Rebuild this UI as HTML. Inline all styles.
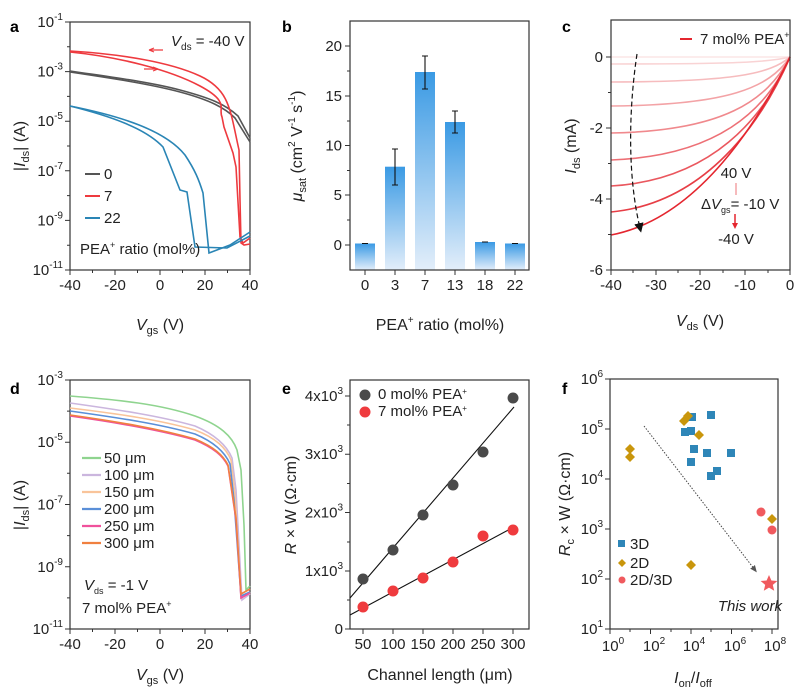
<!DOCTYPE html>
<html><head><meta charset="utf-8"><style>
body{margin:0;background:#fff}
svg{display:block;font-family:"Liberation Sans",Arial,sans-serif}
.t{font-size:15px;fill:#222}
.ti{font-size:16px;fill:#222}
.L{font-size:16px;font-weight:bold}
.ax{fill:none;stroke:#333;stroke-width:1.2}
.c{fill:none;stroke-width:1.6}
</style></head><body>
<svg width="798" height="699" viewBox="0 0 798 699" xmlns="http://www.w3.org/2000/svg">
<defs>
<linearGradient id="bg" x1="0" y1="0" x2="0" y2="1"><stop offset="0" stop-color="#3a9ae4"/><stop offset="1" stop-color="#e3eefa"/></linearGradient>
<marker id="ah" markerWidth="8" markerHeight="8" refX="4" refY="4" orient="auto"><path d="M0,0 L8,4 L0,8z" fill="#111"/></marker>
<marker id="ah2" markerWidth="8" markerHeight="8" refX="4" refY="4" orient="auto"><path d="M0,1 L7,4 L0,7z" fill="#555"/></marker>
</defs>

<!-- ===== Panel a ===== -->
<text x="10" y="32" class="L">a</text>
<rect x="70" y="22" width="180" height="248" class="ax"/>
<g stroke="#333" stroke-width="1">
<path d="M70,22h-5M70,46.8h-3M70,71.6h-5M70,96.4h-3M70,121.2h-5M70,146h-3M70,170.8h-5M70,195.6h-3M70,220.4h-5M70,245.2h-3M70,270h-5"/>
<path d="M70,270v5M92.5,270v3M115,270v5M137.5,270v3M160,270v5M182.5,270v3M205,270v5M227.5,270v3M250,270v5"/>
</g>
<g class="t" text-anchor="end">
<text x="63" y="27">10<tspan font-size="10" dy="-7">-1</tspan></text>
<text x="63" y="76.6">10<tspan font-size="10" dy="-7">-3</tspan></text>
<text x="63" y="126.2">10<tspan font-size="10" dy="-7">-5</tspan></text>
<text x="63" y="175.8">10<tspan font-size="10" dy="-7">-7</tspan></text>
<text x="63" y="225.4">10<tspan font-size="10" dy="-7">-9</tspan></text>
<text x="63" y="275">10<tspan font-size="10" dy="-7">-11</tspan></text>
</g>
<g class="t" text-anchor="middle">
<text x="70" y="290">-40</text><text x="115" y="290">-20</text><text x="160" y="290">0</text><text x="205" y="290">20</text><text x="250" y="290">40</text>
</g>
<text x="160" y="330" class="ti" text-anchor="middle"><tspan font-style="italic">V</tspan><tspan font-size="11" dy="4">gs</tspan><tspan dy="-4"> (V)</tspan></text>
<text transform="translate(25,146) rotate(-90)" class="ti" text-anchor="middle">|<tspan font-style="italic">I</tspan><tspan font-size="11" dy="4">ds</tspan><tspan dy="-4">| (A)</tspan></text>
<path class="c" stroke="#555" d="M70,72 C110,78 150,84 180,92 S225,108 235,118 L250,142"/>
<path class="c" stroke="#555" d="M70,71 C110,77 150,82 180,90 S225,104 238,116 L250,138"/>
<path class="c" stroke="#ee3a3f" d="M70,51 C120,54 170,62 200,76 S230,110 239,150 L240,200 L241,243 L244,245 L250,244"/>
<path class="c" stroke="#ee3a3f" d="M70,52 C120,57 170,70 200,86 S218,108 222,117 L224,127 L233,153 L236,167 L240,237 L243,243 L250,238"/>
<path class="c" stroke="#2a85b5" d="M70,106 C120,116 165,130 185,155 C195,170 199,180 203,193 L209,253 L230,245 L250,232"/>
<path class="c" stroke="#2a85b5" d="M70,106 C110,116 145,128 163,147 L180,190 L187,192 L195,247 L227,248 L250,236"/>
<path stroke="#ee3a3f" stroke-width="1.2" d="M163,50 h-14 M149,50 l5,-2 M149,50 l5,2 M144,69 h14 M158,69 l-5,-2 M158,69 l-5,2" fill="none"/>
<text x="171" y="46" class="t"><tspan font-style="italic">V</tspan><tspan font-size="10" dy="4">ds</tspan><tspan dy="-4"> = -40 V</tspan></text>
<path d="M85,174h15" stroke="#555" stroke-width="2"/><text x="104" y="179" class="t">0</text>
<path d="M85,196h15" stroke="#ee3a3f" stroke-width="2"/><text x="104" y="201" class="t">7</text>
<path d="M85,218h15" stroke="#2a85b5" stroke-width="2"/><text x="104" y="223" class="t">22</text>
<text x="80" y="254" class="t" font-size="14">PEA<tspan font-size="9" dy="-6">+</tspan><tspan dy="6"> ratio (mol%)</tspan></text>

<!-- ===== Panel b ===== -->
<text x="282" y="32" class="L">b</text>
<g fill="url(#bg)">
<rect x="355" y="243.5" width="20" height="26.5"/>
<rect x="385" y="166.7" width="20" height="103.3"/>
<rect x="415" y="72" width="20" height="198"/>
<rect x="445" y="122" width="20" height="148"/>
<rect x="475" y="242" width="20" height="28"/>
<rect x="505" y="243.5" width="20" height="26.5"/>
</g>
<g stroke="#111" stroke-width="1.1">
<path d="M395,149v36M392,149h6M392,185h6"/>
<path d="M425,56v33M422,56h6M422,89h6"/>
<path d="M455,111v22M452,111h6M452,133h6"/>
<path d="M362,243.5h6M482,242h6M512,243.5h6"/>
</g>
<rect x="350" y="21" width="179" height="249" class="ax"/>
<g stroke="#333" stroke-width="1">
<path d="M350,245h-5M350,220h-3M350,195h-5M350,170.5h-3M350,145.5h-5M350,121h-3M350,96h-5M350,71h-3M350,46h-5"/>
<path d="M365,270v5M395,270v5M425,270v5M455,270v5M485,270v5M515,270v5"/>
</g>
<g class="t" text-anchor="end">
<text x="342" y="250">0</text><text x="342" y="200">5</text><text x="342" y="150.5">10</text><text x="342" y="101">15</text><text x="342" y="51">20</text>
</g>
<g class="t" text-anchor="middle">
<text x="365" y="290">0</text><text x="395" y="290">3</text><text x="425" y="290">7</text><text x="455" y="290">13</text><text x="485" y="290">18</text><text x="515" y="290">22</text>
</g>
<text x="440" y="330" class="ti" text-anchor="middle">PEA<tspan font-size="10" dy="-7">+</tspan><tspan dy="7"> ratio (mol%)</tspan></text>
<text transform="translate(302,146) rotate(-90)" class="ti" text-anchor="middle"><tspan font-style="italic">μ</tspan><tspan font-size="11" dy="4">sat</tspan><tspan dy="-4"> (cm</tspan><tspan font-size="10" dy="-7">2</tspan><tspan dy="7"> V</tspan><tspan font-size="10" dy="-7">-1</tspan><tspan dy="7"> s</tspan><tspan font-size="10" dy="-7">-1</tspan><tspan dy="7">)</tspan></text>

<!-- ===== Panel c ===== -->
<text x="562" y="32" class="L">c</text>
<g class="c" stroke-width="1.8">
<path stroke="#fbe6e6" d="M611,57 L790,57"/>
<path stroke="#f9d3d4" d="M790,57 C770,62 740,64 611,64"/>
<path stroke="#f6bcbe" d="M790,57 C770,74 734,81.7 611,82"/>
<path stroke="#f3a3a6" d="M790,57 C769,88 728,105 611,106"/>
<path stroke="#f0898d" d="M790,57 C767,101 723,131 611,133"/>
<path stroke="#ed7076" d="M790,57 C766,111 717,156 611,160"/>
<path stroke="#ea575e" d="M790,57 C764,118 712,180 611,186"/>
<path stroke="#e73e46" d="M790,57 C762,122 706,203 611,212"/>
<path stroke="#e4262f" d="M790,57 C760,118 700,218 611,235"/>
</g>
<rect x="611" y="20" width="179" height="250" class="ax"/>
<path d="M637,54 C630,100 626,170 640,228" fill="none" stroke="#111" stroke-width="1.2" stroke-dasharray="5,3" marker-end="url(#ah)"/>
<g stroke="#333" stroke-width="1">
<path d="M611,57h-5M611,92.5h-3M611,128h-5M611,163.5h-3M611,199h-5M611,234.5h-3M611,270h-5"/>
<path d="M611,270v5M633,270v3M656,270v5M678,270v3M700,270v5M723,270v3M745,270v5M768,270v3M790,270v5"/>
</g>
<g class="t" text-anchor="end">
<text x="603" y="62">0</text><text x="603" y="133">-2</text><text x="603" y="204">-4</text><text x="603" y="275">-6</text>
</g>
<g class="t" text-anchor="middle">
<text x="611" y="290">-40</text><text x="656" y="290">-30</text><text x="700" y="290">-20</text><text x="745" y="290">-10</text><text x="790" y="290">0</text>
</g>
<text x="700" y="326" class="ti" text-anchor="middle"><tspan font-style="italic">V</tspan><tspan font-size="11" dy="4">ds</tspan><tspan dy="-4"> (V)</tspan></text>
<text transform="translate(576,146) rotate(-90)" class="ti" text-anchor="middle"><tspan font-style="italic">I</tspan><tspan font-size="11" dy="4">ds</tspan><tspan dy="-4"> (mA)</tspan></text>
<path d="M680,39h12" stroke="#e4262f" stroke-width="2"/>
<text x="700" y="44" class="t" font-size="14">7 mol% PEA<tspan font-size="9" dy="-6">+</tspan></text>
<text x="736" y="178" class="t" font-size="14" text-anchor="middle">40 V</text>
<path d="M736,183v12" stroke="#f3a3a6" stroke-width="1.5"/>
<text x="701" y="209" class="t" font-size="14">Δ<tspan font-style="italic">V</tspan><tspan font-size="9" dy="4">gs</tspan><tspan dy="-4">= -10 V</tspan></text>
<path d="M735,214v10" stroke="#e4262f" stroke-width="1.5"/><path d="M732,223l3,6l3,-6z" fill="#e4262f"/>
<text x="736" y="244" class="t" font-size="14" text-anchor="middle">-40 V</text>

<!-- ===== Panel d ===== -->
<text x="10" y="394" class="L">d</text>
<rect x="70" y="380" width="180" height="249" class="ax"/>
<g class="c">
<path stroke="#8fd48f" d="M70,396 C120,400 160,404 195,416 C220,425 232,436 237,450 L241,470 L244,525 L246,590 L250,586"/>
<path stroke="#cbb6de" d="M70,403 C120,410 160,416 195,426 C216,435 227,446 232,458 L236,490 L242,600 L250,594"/>
<path stroke="#f9c49a" d="M70,408 C120,414 160,420 195,430 C216,438 226,448 231,460 L235,495 L241,598 L250,592"/>
<path stroke="#5a8fd8" d="M70,411 C120,418 160,424 195,434 C214,442 225,452 230,464 L234,500 L241,596 L250,592"/>
<path stroke="#f0519c" d="M70,416 C120,423 160,430 195,440 C214,448 223,456 228,466 L236,520 L241,598 L250,593"/>
<path stroke="#f08040" d="M70,415 C120,422 160,429 195,439 C214,447 223,455 228,465 L236,518 L241,594 L250,589"/>
</g>
<g stroke="#333" stroke-width="1">
<path d="M70,380h-5M70,411.1h-3M70,442.2h-5M70,473.3h-3M70,504.5h-5M70,535.6h-3M70,566.8h-5M70,597.9h-3M70,629h-5"/>
<path d="M70,629v5M92.5,629v3M115,629v5M137.5,629v3M160,629v5M182.5,629v3M205,629v5M227.5,629v3M250,629v5"/>
</g>
<g class="t" text-anchor="end">
<text x="63" y="385">10<tspan font-size="10" dy="-7">-3</tspan></text>
<text x="63" y="447">10<tspan font-size="10" dy="-7">-5</tspan></text>
<text x="63" y="509.5">10<tspan font-size="10" dy="-7">-7</tspan></text>
<text x="63" y="572">10<tspan font-size="10" dy="-7">-9</tspan></text>
<text x="63" y="634">10<tspan font-size="10" dy="-7">-11</tspan></text>
</g>
<g class="t" text-anchor="middle">
<text x="70" y="649">-40</text><text x="115" y="649">-20</text><text x="160" y="649">0</text><text x="205" y="649">20</text><text x="250" y="649">40</text>
</g>
<text x="160" y="680" class="ti" text-anchor="middle"><tspan font-style="italic">V</tspan><tspan font-size="11" dy="4">gs</tspan><tspan dy="-4"> (V)</tspan></text>
<text transform="translate(25,505) rotate(-90)" class="ti" text-anchor="middle">|<tspan font-style="italic">I</tspan><tspan font-size="11" dy="4">ds</tspan><tspan dy="-4">| (A)</tspan></text>
<g stroke-width="2.2">
<path d="M82,458h19" stroke="#8fd48f"/><path d="M82,475h19" stroke="#cbb6de"/><path d="M82,492h19" stroke="#f9c49a"/>
<path d="M82,509h19" stroke="#5a8fd8"/><path d="M82,526h19" stroke="#f0519c"/><path d="M82,543h19" stroke="#f08040"/>
</g>
<g class="t" font-size="14">
<text x="104" y="463">50 μm</text><text x="104" y="480">100 μm</text><text x="104" y="497">150 μm</text>
<text x="104" y="514">200 μm</text><text x="104" y="531">250 μm</text><text x="104" y="548">300 μm</text>
<text x="84" y="590"><tspan font-style="italic">V</tspan><tspan font-size="9" dy="4">ds</tspan><tspan dy="-4"> = -1 V</tspan></text>
<text x="82" y="613">7 mol% PEA<tspan font-size="9" dy="-6">+</tspan></text>
</g>

<!-- ===== Panel e ===== -->
<text x="282" y="394" class="L">e</text>
<rect x="350" y="380" width="179" height="249" class="ax"/>
<path d="M350,598 L514,407" stroke="#111" stroke-width="1.1"/>
<path d="M350,615 L514,527" stroke="#111" stroke-width="1.1"/>
<g fill="#4a4a4a">
<circle cx="363" cy="579" r="5.5"/><circle cx="393" cy="550" r="5.5"/><circle cx="423" cy="515" r="5.5"/><circle cx="453" cy="485" r="5.5"/><circle cx="483" cy="452" r="5.5"/><circle cx="513" cy="398" r="5.5"/>
<circle cx="365" cy="395" r="5.5"/>
</g>
<g fill="#ef3b3e">
<circle cx="363" cy="607" r="5.5"/><circle cx="393" cy="591" r="5.5"/><circle cx="423" cy="578" r="5.5"/><circle cx="453" cy="562" r="5.5"/><circle cx="483" cy="536" r="5.5"/><circle cx="513" cy="530" r="5.5"/>
<circle cx="365" cy="412" r="5.5"/>
</g>
<text x="378" y="399" class="t" font-size="11.5">0 mol% PEA<tspan font-size="8" dy="-5">+</tspan></text>
<text x="378" y="416" class="t" font-size="11.5">7 mol% PEA<tspan font-size="8" dy="-5">+</tspan></text>
<g stroke="#333" stroke-width="1">
<path d="M350,629h-5M350,600h-3M350,571h-5M350,542h-3M350,512.5h-5M350,483.5h-3M350,454.3h-5M350,425h-3M350,396h-5"/>
<path d="M363,629v5M393,629v5M423,629v5M453,629v5M483,629v5M513,629v5"/>
</g>
<g class="t" text-anchor="end">
<text x="343" y="634">0</text>
<text x="343" y="576">1x10<tspan font-size="10" dy="-7">3</tspan></text>
<text x="343" y="517.5">2x10<tspan font-size="10" dy="-7">3</tspan></text>
<text x="343" y="459">3x10<tspan font-size="10" dy="-7">3</tspan></text>
<text x="343" y="401">4x10<tspan font-size="10" dy="-7">3</tspan></text>
</g>
<g class="t" text-anchor="middle">
<text x="363" y="649">50</text><text x="393" y="649">100</text><text x="423" y="649">150</text><text x="453" y="649">200</text><text x="483" y="649">250</text><text x="513" y="649">300</text>
</g>
<text x="440" y="680" class="ti" text-anchor="middle">Channel length (μm)</text>
<text transform="translate(296,505) rotate(-90)" class="ti" text-anchor="middle"><tspan font-style="italic">R</tspan> × W (Ω·cm)</text>

<!-- ===== Panel f ===== -->
<text x="562" y="394" class="L">f</text>
<rect x="610" y="379" width="168" height="250" class="ax"/>
<path d="M644,426 L755,570" stroke="#444" stroke-width="1" stroke-dasharray="1.5,1.5" marker-end="url(#ah2)"/>
<g fill="#2e86b8">
<rect x="688" y="413" width="8" height="8"/><rect x="707" y="411" width="8" height="8"/><rect x="681" y="428" width="8" height="8"/><rect x="687" y="427" width="8" height="8"/>
<rect x="690" y="445" width="8" height="8"/><rect x="703" y="449" width="8" height="8"/><rect x="687" y="458" width="8" height="8"/><rect x="727" y="449" width="8" height="8"/>
<rect x="707" y="472" width="8" height="8"/><rect x="713" y="467" width="8" height="8"/>
<rect x="618" y="540" width="7" height="7"/>
</g>
<g fill="#c9960c">
<path d="M630,444l5,5l-5,5l-5,-5z"/><path d="M630,452l5,5l-5,5l-5,-5z"/><path d="M684,416l5,5l-5,5l-5,-5z"/><path d="M688,411l5,5l-5,5l-5,-5z"/>
<path d="M699,430l5,5l-5,5l-5,-5z"/><path d="M691,560l5,5l-5,5l-5,-5z"/><path d="M772,514l5,5l-5,5l-5,-5z"/>
<path d="M622,559l4,4l-4,4l-4,-4z"/>
</g>
<g fill="#f05a5e">
<circle cx="761" cy="512" r="4.5"/><circle cx="772" cy="530" r="4.5"/><circle cx="622" cy="580" r="3.5"/>
<path d="M769,575 l2.4,5.5 6,0.5 -4.6,3.9 1.4,5.8 -5.2,-3.1 -5.2,3.1 1.4,-5.8 -4.6,-3.9 6,-0.5z"/>
</g>
<text x="630" y="549" class="t" font-size="14">3D</text>
<text x="630" y="568" class="t" font-size="14">2D</text>
<text x="630" y="585" class="t" font-size="14">2D/3D</text>
<text x="782" y="611" class="t" font-size="13" font-style="italic" text-anchor="end">This work</text>
<g stroke="#333" stroke-width="1">
<path d="M610,379h-5M610,429h-5M610,479h-5M610,529h-5M610,579h-5M610,629h-5"/>
<path d="M610,629v5M630,629v3M650.5,629v5M671,629v3M691,629v5M711,629v3M731.5,629v5M752,629v3M772,629v5"/>
</g>
<g class="t" text-anchor="end">
<text x="603" y="384">10<tspan font-size="10" dy="-7">6</tspan></text>
<text x="603" y="434">10<tspan font-size="10" dy="-7">5</tspan></text>
<text x="603" y="484">10<tspan font-size="10" dy="-7">4</tspan></text>
<text x="603" y="534">10<tspan font-size="10" dy="-7">3</tspan></text>
<text x="603" y="584">10<tspan font-size="10" dy="-7">2</tspan></text>
<text x="603" y="634">10<tspan font-size="10" dy="-7">1</tspan></text>
</g>
<g class="t" text-anchor="middle">
<text x="613" y="651">10<tspan font-size="10" dy="-7">0</tspan></text>
<text x="654" y="651">10<tspan font-size="10" dy="-7">2</tspan></text>
<text x="694" y="651">10<tspan font-size="10" dy="-7">4</tspan></text>
<text x="735" y="651">10<tspan font-size="10" dy="-7">6</tspan></text>
<text x="775" y="651">10<tspan font-size="10" dy="-7">8</tspan></text>
</g>
<text x="693" y="683" class="ti" text-anchor="middle"><tspan font-style="italic">I</tspan><tspan font-size="11" dy="4">on</tspan><tspan dy="-4">/</tspan><tspan font-style="italic">I</tspan><tspan font-size="11" dy="4">off</tspan></text>
<text transform="translate(570,504) rotate(-90)" class="ti" text-anchor="middle"><tspan font-style="italic">R</tspan><tspan font-size="11" dy="4">c</tspan><tspan dy="-4"> × W (Ω·cm)</tspan></text>
</svg>
</body></html>
